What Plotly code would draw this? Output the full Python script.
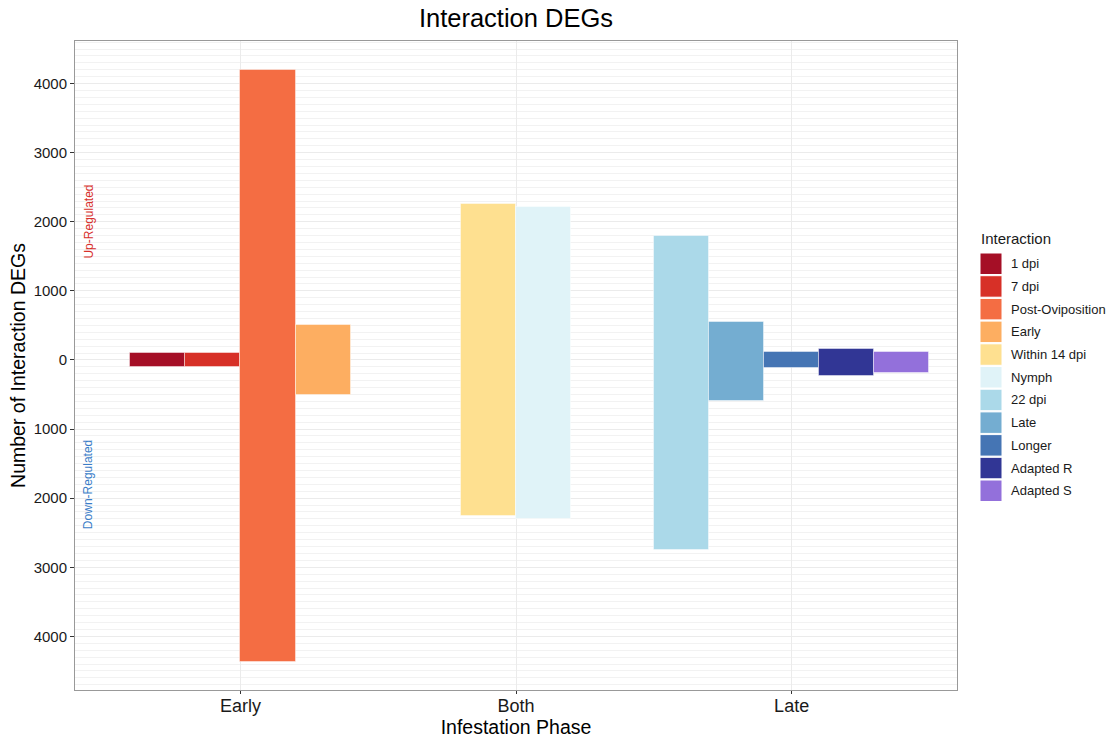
import plotly.graph_objects as go

phases = ["Early", "Both", "Late"]
interactions = ["1 dpi", "7 dpi", "Post-Oviposition", "Early", "Within 14 dpi",
                "Nymph", "22 dpi", "Late", "Longer", "Adapted R", "Adapted S"]
phase_of = ["Early", "Early", "Early", "Early", "Both",
            "Both", "Late", "Late", "Late", "Late", "Late"]
up_regulated = [95, 95, 4200, 505, 2260, 2220, 1800, 553, 119, 162, 119]
down_regulated = [100, 100, 4365, 500, 2260, 2300, 2755, 600, 119, 230, 182]
colors = ["#a50f26", "#d73027", "#f46d43", "#fdae61", "#fee090",
          "#e0f3f8", "#abd9e9", "#74add1", "#4575b4", "#313695", "#9370db"]
y_ticks = [-4000, -3000, -2000, -1000, 0, 1000, 2000, 3000, 4000]

W, H = 1112, 740
ML, MR, MT, MB = 75, 155, 41, 50
PW, PH = W - ML - MR, H - MT - MB


def px_x(p):
    return (p - ML) / PW


def px_y(p):
    return (H - MB - p) / PH


bar_w = 0.2
fig = go.Figure()
for i, name in enumerate(interactions):
    ph = phase_of[i]
    members = [j for j, p in enumerate(phase_of) if p == ph]
    k = members.index(i)
    n = len(members)
    xpos = phases.index(ph) + 1 + (k - (n - 1) / 2) * bar_w
    fig.add_trace(go.Bar(
        x=[xpos],
        y=[up_regulated[i] + down_regulated[i]],
        base=[-down_regulated[i]],
        width=bar_w,
        name=name,
        marker=dict(color=colors[i], line=dict(color="rgba(255,255,255,0.45)", width=1)),
        showlegend=False,
        hoverinfo="skip",
    ))

fig.add_annotation(x=0.45, y=2000, text="Up-Regulated", textangle=-90, showarrow=False,
                   font=dict(color="#d7302c", size=12), xanchor="center", yanchor="middle")
fig.add_annotation(x=0.45, y=-1800, text="Down-Regulated", textangle=-90, showarrow=False,
                   font=dict(color="#3b7dc8", size=12), xanchor="center", yanchor="middle")

# legend drawn as keys + labels
fig.add_annotation(x=px_x(979), y=px_y(238), xref="paper", yref="paper", text="Interaction",
                   showarrow=False, xanchor="left", yanchor="middle",
                   font=dict(size=15, color="#1a1a1a"))
for i, name in enumerate(interactions):
    top = 253 + i * 22.7
    fig.add_shape(type="rect", xref="paper", yref="paper",
                  x0=px_x(980), x1=px_x(1002), y0=px_y(top), y1=px_y(top + 21.5),
                  fillcolor=colors[i], line=dict(color="white", width=1))
    fig.add_annotation(x=px_x(1009), y=px_y(top + 10.75), xref="paper", yref="paper",
                       text=name, showarrow=False, xanchor="left", yanchor="middle",
                       font=dict(size=13, color="#1a1a1a"))

fig.update_layout(
    width=W, height=H,
    margin=dict(l=ML, r=MR, t=MT, b=MB, autoexpand=False),
    paper_bgcolor="white", plot_bgcolor="white",
    font=dict(family="Liberation Sans, Arial, sans-serif", color="black"),
    title=dict(text="Interaction DEGs", x=0.5, xref="paper", xanchor="center",
               y=0.975, yref="container", yanchor="middle", font=dict(size=25.5, color="black")),
    barmode="overlay",
    bargap=0,
    showlegend=False,
    xaxis=dict(range=[0.4, 3.6], tickvals=[1, 2, 3], ticktext=phases,
               title=dict(text="Infestation Phase", font=dict(size=19.5), standoff=3),
               tickfont=dict(size=18, color="#1a1a1a"), showgrid=True, gridcolor="#ebebeb",
               gridwidth=1, zeroline=False, showline=True, linecolor="#999999", mirror=True,
               ticks="outside", ticklen=3, tickcolor="#333333"),
    yaxis=dict(range=[-4776, 4616], tickvals=y_ticks, ticktext=[str(abs(v)) for v in y_ticks],
               title=dict(text="Number of Interaction DEGs", font=dict(size=19.5), standoff=2),
               tickfont=dict(size=15, color="#1a1a1a"), showgrid=True, gridcolor="#ebebeb",
               zeroline=False, showline=True, linecolor="#999999", mirror=True,
               ticks="outside", ticklen=4, tickcolor="#333333",
               minor=dict(dtick=100, showgrid=True, gridcolor="#f2f2f2", gridwidth=1)),
)
try:
    fig.update_xaxes(ticklabelstandoff=-4)
except ValueError:
    pass

fig.write_html("out.html")
